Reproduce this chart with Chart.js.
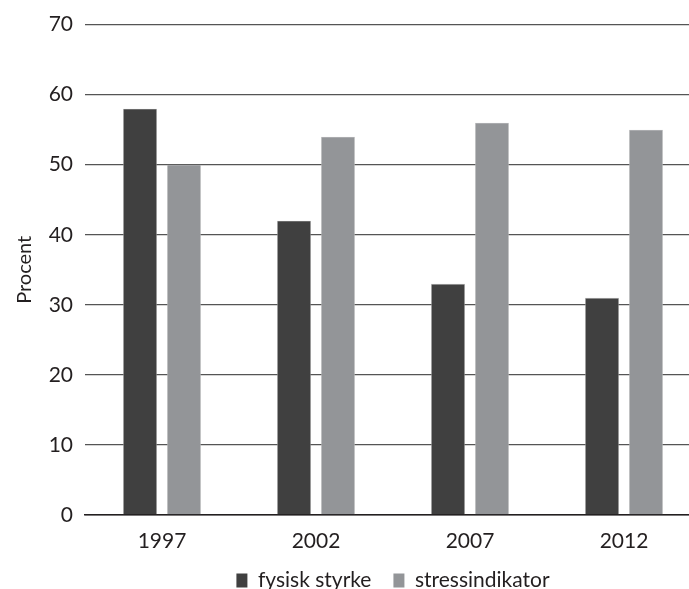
<!DOCTYPE html>
<html>
<head>
<meta charset="utf-8">
<script src="https://cdn.jsdelivr.net/npm/chart.js@4.4.1/dist/chart.umd.min.js"></script>
<style>
  html, body { margin: 0; padding: 0; background: #ffffff; overflow: hidden; }
  #wrap { width: 689px; height: 589px; overflow: hidden; }
</style>
</head>
<body>
<div id="wrap"><canvas id="c" width="701" height="601"></canvas></div>
<script>
// Survey years on the x axis
const years = ['1997', '2002', '2007', '2012'];
// Share (percent) per year for each indicator
const fysiskStyrke = [58, 42, 33, 31];
const stressindikator = [50, 54, 56, 55];
// Value axis
const yMin = 0;
const yMax = 70;
const yStep = 10;

const textColor = '#231f20';
Chart.defaults.font.family = 'Lato, "Open Sans", sans-serif';
Chart.defaults.font.size = 21;
Chart.defaults.color = textColor;

new Chart(document.getElementById('c'), {
  type: 'bar',
  data: {
    labels: years,
    datasets: [
      {
        label: 'fysisk styrke',
        data: fysiskStyrke,
        backgroundColor: '#404040',
        borderColor: '#bdbdbd',
        borderWidth: 0.6,
        categoryPercentage: 0.571,
        barPercentage: 0.773
      },
      {
        label: 'stressindikator',
        data: stressindikator,
        backgroundColor: '#939598',
        borderColor: '#c8c8c8',
        borderWidth: 0.6,
        categoryPercentage: 0.571,
        barPercentage: 0.773
      }
    ]
  },
  options: {
    responsive: false,
    animation: false,
    layout: { padding: { top: 24, right: 0, bottom: 0, left: 0 } },
    plugins: {
      tooltip: { enabled: false },
      legend: {
        position: 'bottom',
        fullSize: false,
        labels: {
          boxWidth: 11,
          boxHeight: 14,
          padding: 22,
          color: textColor,
          font: { size: 21 },
          generateLabels(chart) {
            return chart.data.datasets.map((ds, i) => ({
              text: ds.label,
              fillStyle: ds.backgroundColor,
              strokeStyle: ds.backgroundColor,
              lineWidth: 0,
              hidden: false,
              datasetIndex: i,
              fontColor: textColor
            }));
          }
        }
      }
    },
    scales: {
      x: {
        grid: { display: false, drawTicks: false },
        border: { display: true, color: '#231f20', width: 1.5 },
        ticks: { padding: 14, color: textColor, font: { size: 21 } },
        afterFit(scale) { scale.height = 33; }
      },
      y: {
        min: yMin,
        max: yMax,
        ticks: { stepSize: yStep, padding: 12, color: textColor, font: { size: 21 } },
        grid: { color: '#555555', lineWidth: 1.3, drawTicks: false },
        border: { display: false },
        title: {
          display: true,
          text: 'Procent',
          color: textColor,
          font: { size: 20 },
          padding: { top: 13, bottom: 6 }
        },
        afterFit(scale) { scale.width = 85; }
      }
    }
  }
});
</script>
</body>
</html>
